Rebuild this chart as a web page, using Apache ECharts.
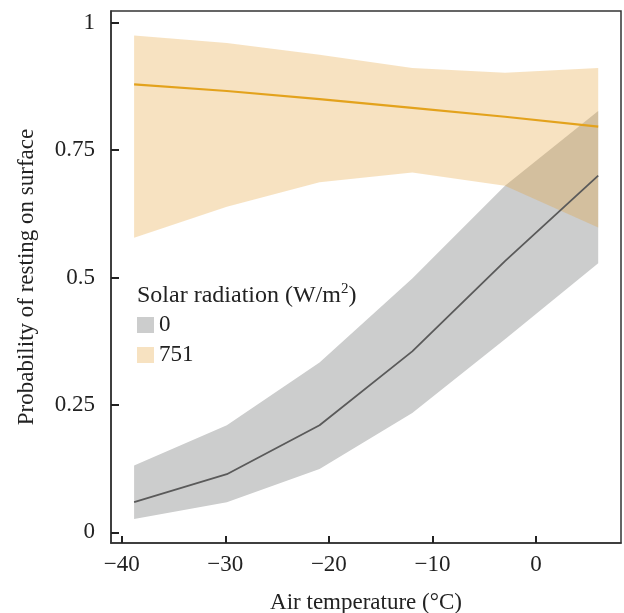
<!DOCTYPE html>
<html>
<head>
<meta charset="utf-8">
<script src="https://cdn.jsdelivr.net/npm/echarts@6/dist/echarts.min.js"></script>
<style>
html,body{margin:0;padding:0;background:#fff;}
#chart{width:624px;height:613px;}
</style>
</head>
<body>
<div id="chart"></div>
<script>
// Air temperature (°C) at which predictions were made
var temps = [-38.8, -29.85, -20.9, -11.95, -3.0, 6.0];
// Solar radiation 0 W/m2
var grayMean  = [0.059, 0.114, 0.210, 0.355, 0.532, 0.700];
var grayLower = [0.026, 0.059, 0.124, 0.234, 0.379, 0.528];
var grayUpper = [0.131, 0.210, 0.333, 0.498, 0.680, 0.827];
// Solar radiation 751 W/m2
var orangeMean  = [0.879, 0.866, 0.850, 0.833, 0.8155, 0.796];
var orangeLower = [0.578, 0.639, 0.687, 0.706, 0.680, 0.598];
var orangeUpper = [0.975, 0.960, 0.937, 0.911, 0.902, 0.911];
// Ticks
var xTicks = [-40, -30, -20, -10, 0];
var yTicks = [0, 0.25, 0.5, 0.75, 1];
var yTickLabels = ['0', '0.25', '0.5', '0.75', '1'];
var legendNames = ['0', '751'];

function pairs(xs, ys) { return xs.map(function (x, i) { return [x, ys[i]]; }); }

var FONT = '"Liberation Serif", "DejaVu Serif", serif';
var GRAY = '#cccdcd';
var ORANGE_BAND = 'rgba(230,160,50,0.3)';

function bandSeries(name, xs, lo, up, color, z) {
  return {
    type: 'custom', name: name, z: z, silent: true,
    itemStyle: {color: color},
    data: [[xs[0], up[0]]],
    renderItem: function (params, api) {
      var pts = [];
      for (var i = 0; i < xs.length; i++) pts.push(api.coord([xs[i], up[i]]));
      for (var j = xs.length - 1; j >= 0; j--) pts.push(api.coord([xs[j], lo[j]]));
      return {type: 'polygon', shape: {points: pts}, style: {fill: color, stroke: null}};
    }
  };
}

var chart = echarts.init(document.getElementById('chart'), null, {renderer: 'canvas'});
var option = {
  animation: false,
  backgroundColor: '#fff',
  grid: {left: 111, right: 3, top: 11, bottom: 70, outerBoundsMode: 'none', containLabel: false,
    show: true, borderColor: '#333', borderWidth: 1.5, backgroundColor: 'transparent'},
  title: {
    left: 132, top: 277,
    text: '{a|Solar radiation (W/m}{s|2}{a|)}',
    textStyle: {
      fontWeight: 'normal',
      rich: {
        a: {fontFamily: FONT, fontSize: 24, fontWeight: 'normal', color: '#222', lineHeight: 27},
        s: {fontFamily: FONT, fontSize: 15, fontWeight: 'normal', color: '#222', lineHeight: 15, verticalAlign: 'top'}
      }
    }
  },
  legend: {
    data: legendNames,
    orient: 'vertical',
    left: 132, top: 307,
    icon: 'rect',
    itemWidth: 17, itemHeight: 16, itemGap: 4,
    itemStyle: {borderWidth: 0},
    textStyle: {fontFamily: FONT, fontSize: 23, color: '#222', lineHeight: 26},
    selectedMode: false
  },
  xAxis: {
    type: 'value', min: -41.03, max: 8.2,
    name: 'Air temperature (°C)', nameLocation: 'middle', nameGap: 48,
    nameTextStyle: {fontFamily: FONT, fontSize: 23, color: '#222'},
    axisLine: {show: true, onZero: false, lineStyle: {color: '#333', width: 1.5}},
    axisTick: {show: true, inside: true, length: 7, customValues: xTicks, lineStyle: {color: '#222', width: 2}},
    axisLabel: {customValues: xTicks, margin: 10, fontFamily: FONT, fontSize: 23, color: '#222',
      formatter: function (v) { return String(v).replace('-', '\u2212'); }},
    splitLine: {show: false}
  },
  yAxis: {
    type: 'value', min: -0.021, max: 1.023,
    name: 'Probability of resting on surface', nameLocation: 'middle', nameGap: 73,
    nameTextStyle: {fontFamily: FONT, fontSize: 23, color: '#222'},
    axisLine: {show: true, onZero: false, lineStyle: {color: '#333', width: 1.5}},
    axisTick: {show: true, inside: true, length: 8, customValues: yTicks, lineStyle: {color: '#222', width: 2}},
    axisLabel: {customValues: yTicks, margin: 16, fontFamily: FONT, fontSize: 23, color: '#222',
      formatter: function (v) { var i = yTicks.indexOf(v); return i >= 0 ? yTickLabels[i] : ''; }},
    splitLine: {show: false}
  },
  series: [
    bandSeries('0', temps, grayLower, grayUpper, GRAY, 1),
    bandSeries('751', temps, orangeLower, orangeUpper, ORANGE_BAND, 2),
    {type: 'line', name: 'gMean', data: pairs(temps, grayMean), symbol: 'none', lineStyle: {color: '#5a5a5a', width: 1.8}, z: 3, silent: true},
    {type: 'line', name: 'oMean', data: pairs(temps, orangeMean), symbol: 'none', lineStyle: {color: '#e3a21c', width: 2.2}, z: 3, silent: true}
  ]
};
chart.setOption(option);
</script>
</body>
</html>
